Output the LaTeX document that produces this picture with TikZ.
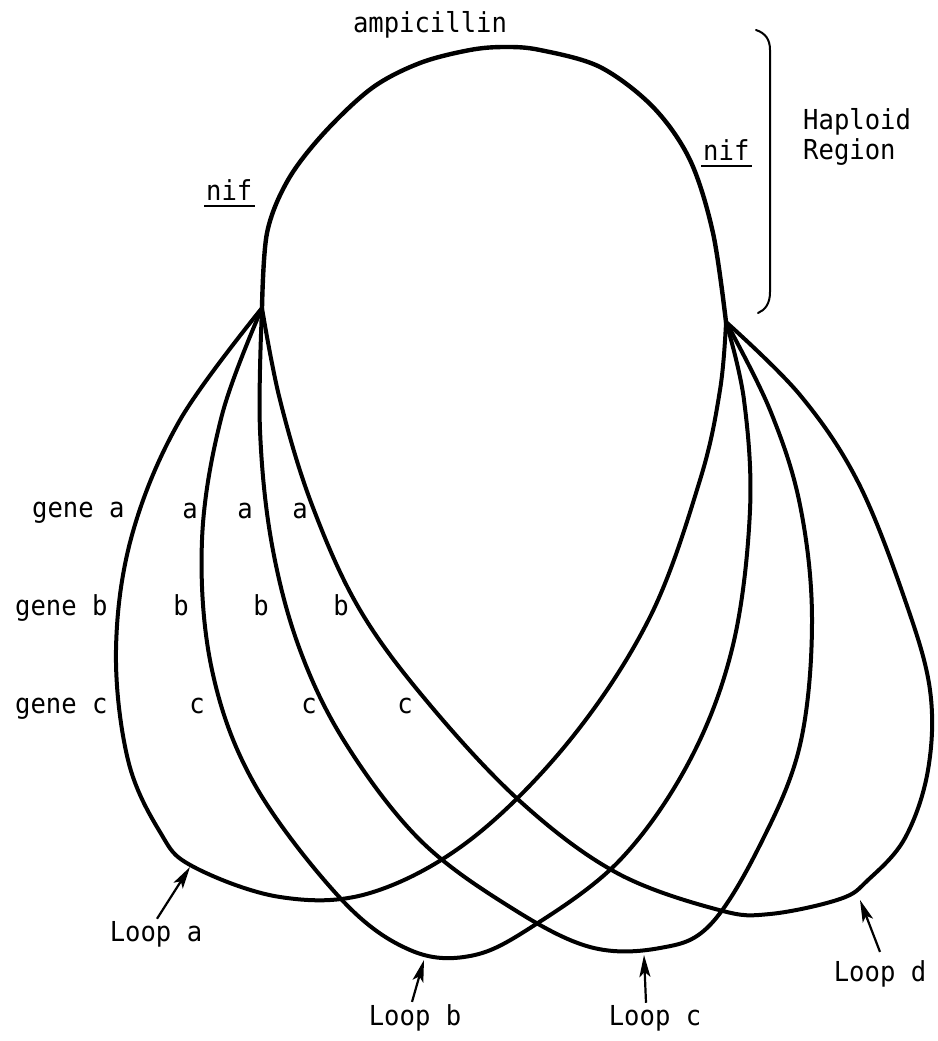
\documentclass[tikz,border=0pt]{standalone}
\usepackage{fontspec}
\newfontfamily\twfont[FakeStretch=0.93]{DejaVu Sans Mono}
\usetikzlibrary{arrows.meta}
\tikzset{
  loopline/.style={line width=4pt, line cap=round, line join=round},
  lbl/.style={font=\twfont\fontsize{27.5}{32}\selectfont, inner sep=0pt},
  looplbl/.style={lbl, inner sep=2pt},
  ptr/.style={line width=2.2pt, -{Stealth[length=22pt,width=11pt,inset=5pt]}},
  uline/.style={line width=2pt},
  bracketline/.style={line width=2pt, line cap=round}
}
\begin{document}
\begin{tikzpicture}[x=1pt,y=-1pt]
\useasboundingbox (0,0) rectangle (937,1041);
\fill[white] (0,0) rectangle (937,1041);
\coordinate (L) at (262,308);
\coordinate (R) at (726,322);
% top (haploid) loop
\draw[loopline, line width=4.4pt] plot[smooth, tension=0.55] coordinates {(262,308) (267,233) (288,180) (324,133) (372,88) (420,63) (470,50) (505,47) (540,50) (600,67) (653,107) (690,160) (713,233) (726,322)};
% loop a
\draw[loopline] plot[smooth, tension=0.6] coordinates {(262,308) (180,420) (132,535) (116,650) (128,760) (160,832) (192,866) (280,897) (370,893) (470,840) (570,740) (650,617) (700,480) (720,390) (726,322)};
% loop b
\draw[loopline] plot[smooth, tension=0.6] coordinates {(262,308) (222,415) (202,540) (212,670) (255,785) (342,900) (410,950) (470,956) (530,928) (620,860) (690,760) (733,645) (750,510) (744,400) (726,322)};
% loop c
\draw[loopline] plot[smooth, tension=0.6] coordinates {(262,308) (260,430) (272,545) (300,650) (346,744) (420,840) (510,907) (590,947) (660,948) (710,925) (760,845) (800,745) (812,620) (800,505) (770,410) (726,322)};
% loop d
\draw[loopline] plot[smooth, tension=0.6] coordinates {(262,308) (280,400) (312,505) (360,610) (430,705) (522,803) (617,873) (719,910) (770,914) (840,899) (868,880) (905,838) (928,770) (930,690) (905,600) (858,482) (800,395) (726,322)};
% bracket
\draw[bracketline] (756,30) .. controls (765,33) and (770,39) .. (770,50) -- (770,292) .. controls (770,304) and (765,310) .. (758,313);
% texts
\node[lbl, anchor=base] (amp) at (430,33) {ampicillin};
\node[lbl, anchor=base west] (nifL) at (206,200) {nif};
\draw[uline] ([xshift=-2pt,yshift=-6pt]nifL.base west) -- ([xshift=2pt,yshift=-6pt]nifL.base east);
\node[lbl, anchor=base west] (nifR) at (703,160) {nif};
\draw[uline] ([xshift=-2pt,yshift=-6pt]nifR.base west) -- ([xshift=2pt,yshift=-6pt]nifR.base east);
\node[lbl, anchor=base west] (hap) at (803,129) {Haploid};
\node[lbl, anchor=base west] (reg) at (803,159) {Region};
\node[lbl, anchor=base west] (ga) at (32,517) {gene a};
\node[lbl, anchor=base west] (gb) at (15,615) {gene b};
\node[lbl, anchor=base west] (gc) at (15,713) {gene c};
\node[lbl, anchor=base] (a2) at (190,518) {a};
\node[lbl, anchor=base] (a3) at (245,518) {a};
\node[lbl, anchor=base] (a4) at (300,518) {a};
\node[lbl, anchor=base] (b2) at (181,615) {b};
\node[lbl, anchor=base] (b3) at (261,615) {b};
\node[lbl, anchor=base] (b4) at (341,615) {b};
\node[lbl, anchor=base] (c2) at (197,713) {c};
\node[lbl, anchor=base] (c3) at (309,713) {c};
\node[lbl, anchor=base] (c4) at (405,713) {c};
% loop labels and pointers
\node[looplbl, anchor=base] (la) at (156,941) {Loop a};
\node[looplbl, anchor=base] (lb) at (415,1025) {Loop b};
\node[looplbl, anchor=base] (lc) at (655,1025) {Loop c};
\node[looplbl, anchor=base] (ld) at (880,981) {Loop d};
\coordinate (ta) at (190,867);
\coordinate (tb) at (424,960);
\coordinate (tc) at (644,955);
\coordinate (td) at (860,900);
\draw[ptr] ([xshift=1pt]la.north) -- (ta);
\draw[ptr] ([xshift=-3pt]lb.north) -- (tb);
\draw[ptr] ([xshift=-9pt]lc.north) -- (tc);
\draw[ptr] ([yshift=6pt]ld.north) -- (td);
\end{tikzpicture}
\end{document}
